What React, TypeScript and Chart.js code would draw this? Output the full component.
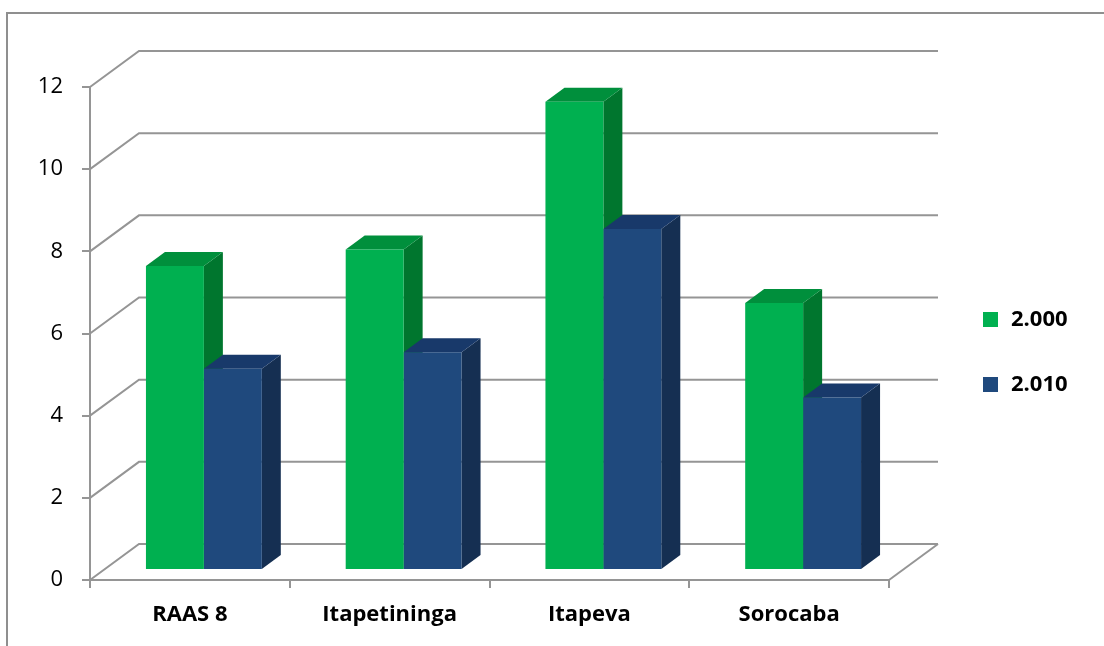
import { useEffect, useRef } from "react";
import { Chart, registerables } from "chart.js";

Chart.register(...registerables);

// Data
const categories = ["RAAS 8", "Itapetininga", "Itapeva", "Sorocaba"];
const seriesLabels = ["2.000", "2.010"];
const values2000 = [7.4, 7.8, 11.4, 6.5];
const values2010 = [4.9, 5.3, 8.3, 4.2];
const yTicks = [0, 2, 4, 6, 8, 10, 12];

// Face colours per series: front, top, side
const frontColors = ["#00B050", "#1F497D"];
const topColors = ["#008F3C", "#18396A"];
const sideColors = ["#00762E", "#152F52"];

const GRID_COLOR = "#959595";
const FONT = "'Open Sans', 'Liberation Sans', sans-serif";

// 3D geometry (pixels)
const WALL_DX = 49;
const WALL_DY = 36;
const BAR_DX = 14;
const BAR_DY = 10;
const DEPTH_DX = 19;
const DEPTH_DY = 14;

const threeDPlugin = {
  id: "threeD",
  beforeDatasetsDraw(chart: any) {
    const { ctx, chartArea: a } = chart;
    const y = chart.scales.y;
    ctx.save();
    ctx.strokeStyle = GRID_COLOR;
    ctx.lineWidth = 2;
    ctx.lineJoin = "miter";
    // side wall diagonals + back wall gridlines
    for (const t of yTicks) {
      const py = y.getPixelForValue(t);
      ctx.beginPath();
      ctx.moveTo(a.left, py);
      ctx.lineTo(a.left + WALL_DX, py - WALL_DY);
      ctx.lineTo(a.right + WALL_DX, py - WALL_DY);
      ctx.stroke();
    }
    // right edge of the floor
    ctx.beginPath();
    ctx.moveTo(a.right, a.bottom);
    ctx.lineTo(a.right + WALL_DX, a.bottom - WALL_DY);
    ctx.stroke();
    ctx.restore();

    // bars are drawn in a plane set back from the front edge of the floor
    ctx.save();
    ctx.translate(BAR_DX, -BAR_DY);
    const metas = chart.data.datasets.map((_: any, i: number) => chart.getDatasetMeta(i));
    // side faces
    metas.forEach((meta: any, di: number) => {
      meta.data.forEach((bar: any) => {
        const { x, y: top, base, width } = bar.getProps(["x", "y", "base", "width"], true);
        const r = x + width / 2;
        ctx.fillStyle = sideColors[di];
        ctx.beginPath();
        ctx.moveTo(r, top);
        ctx.lineTo(r + DEPTH_DX, top - DEPTH_DY);
        ctx.lineTo(r + DEPTH_DX, base - DEPTH_DY);
        ctx.lineTo(r, base);
        ctx.closePath();
        ctx.fill();
      });
    });
    // top faces
    metas.forEach((meta: any, di: number) => {
      meta.data.forEach((bar: any) => {
        const { x, y: top, width } = bar.getProps(["x", "y", "width"], true);
        const l = x - width / 2;
        const r = x + width / 2;
        ctx.fillStyle = topColors[di];
        ctx.beginPath();
        ctx.moveTo(l, top);
        ctx.lineTo(l + DEPTH_DX, top - DEPTH_DY);
        ctx.lineTo(r + DEPTH_DX, top - DEPTH_DY);
        ctx.lineTo(r, top);
        ctx.closePath();
        ctx.fill();
      });
    });
  },
  afterDatasetsDraw(chart: any) {
    chart.ctx.restore();
  },
  afterDraw(chart: any) {
    const { ctx } = chart;
    ctx.save();
    ctx.font = `bold 22px ${FONT}`;
    ctx.textBaseline = "middle";
    ctx.textAlign = "left";
    chart.data.datasets.forEach((ds: any, i: number) => {
      const cy = 320 + i * 65;
      ctx.fillStyle = ds.backgroundColor;
      ctx.fillRect(983, cy - 8, 15, 15);
      ctx.fillStyle = "#000";
      ctx.fillText(ds.label, 1011, cy);
    });
    ctx.restore();
  },
};

export default function App() {
  const canvasRef = useRef<HTMLCanvasElement | null>(null);

  useEffect(() => {
    const canvas = canvasRef.current;
    if (!canvas) return;
    const chart = new Chart(canvas, {
      type: "bar",
      data: {
        labels: categories,
        datasets: [
          {
            label: seriesLabels[0],
            data: values2000,
            backgroundColor: frontColors[0],
            borderWidth: 0,
            clip: false as any,
          },
          {
            label: seriesLabels[1],
            data: values2010,
            backgroundColor: frontColors[1],
            borderWidth: 0,
            clip: false as any,
          },
        ],
      },
      options: {
        responsive: false,
        animation: false,
        devicePixelRatio: 1,
        categoryPercentage: 0.58,
        barPercentage: 1,
        layout: { padding: { top: 87, right: 215, bottom: 0, left: 0 } },
        plugins: {
          legend: { display: false },
          tooltip: { enabled: false },
        },
        scales: {
          x: {
            afterFit: (s: any) => {
              s.height = 66;
            },
            grid: {
              display: true,
              drawOnChartArea: false,
              drawTicks: true,
              tickLength: 8,
              tickColor: GRID_COLOR,
              tickWidth: 2,
              lineWidth: 2,
              color: GRID_COLOR,
            },
            border: { display: true, color: GRID_COLOR, width: 2 },
            ticks: {
              color: "#000",
              font: { family: FONT, size: 22, weight: "bold" },
              padding: 14,
              maxRotation: 0,
            },
          },
          y: {
            min: 0,
            max: 12,
            afterFit: (s: any) => {
              s.width = 90;
            },
            afterBuildTicks: (s: any) => {
              s.ticks = yTicks.map((v) => ({ value: v }));
            },
            grid: {
              display: true,
              drawOnChartArea: false,
              drawTicks: true,
              tickLength: 8,
              tickColor: GRID_COLOR,
              tickWidth: 2,
              lineWidth: 2,
              color: GRID_COLOR,
            },
            border: { display: true, color: GRID_COLOR, width: 2 },
            ticks: {
              color: "#000",
              font: { family: FONT, size: 22 },
              padding: 19,
            },
          },
        },
      },
      plugins: [threeDPlugin],
    });
    return () => chart.destroy();
  }, []);

  return (
    <div style={{ position: "fixed", inset: 0, overflow: "hidden", background: "#fff" }}>
      <div
        style={{
          position: "absolute",
          left: 6,
          top: 12,
          width: 1098,
          height: 634,
          borderLeft: "2px solid #8f8f8f",
          borderTop: "2px solid #8f8f8f",
          boxSizing: "border-box",
        }}
      />
      <canvas
        ref={canvasRef}
        width={1104}
        height={646}
        style={{ position: "absolute", left: 0, top: 0, width: 1104, height: 646 }}
      />
    </div>
  );
}
